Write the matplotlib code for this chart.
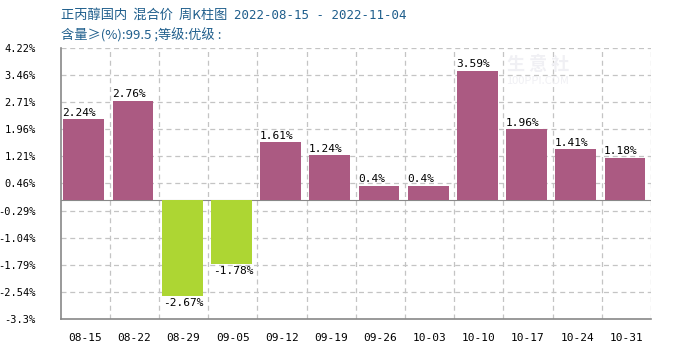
import matplotlib
matplotlib.use("Agg")
import matplotlib.pyplot as plt
import numpy as np

plt.rcParams['font.family'] = ['Noto Sans CJK SC', 'DejaVu Sans']

# weekly change data
weeks = ["08-15", "08-22", "08-29", "09-05", "09-12", "09-19",
         "09-26", "10-03", "10-10", "10-17", "10-24", "10-31"]
changes = [2.24, 2.76, -2.67, -1.78, 1.61, 1.24, 0.4, 0.4, 3.59, 1.96, 1.41, 1.18]
value_labels = ["2.24%", "2.76%", "-2.67%", "-1.78%", "1.61%", "1.24%",
                "0.4%", "0.4%", "3.59%", "1.96%", "1.41%", "1.18%"]
yticks = [4.22, 3.46, 2.71, 1.96, 1.21, 0.46, -0.29, -1.04, -1.79, -2.54, -3.3]
ytick_labels = ["4.22%", "3.46%", "2.71%", "1.96%", "1.21%", "0.46%",
                "-0.29%", "-1.04%", "-1.79%", "-2.54%", "-3.3%"]

up_color = "#AB5A82"
down_color = "#ADD633"
title_color = "#1F5E8C"
grid_color = "#C4C4C4"
mono = "DejaVu Sans Mono"

fig = plt.figure(figsize=(7, 3.5), dpi=100)
ax = fig.add_axes([0.0866, 0.0886, 0.8434, 0.7744])

x = np.arange(len(weeks))
colors = [up_color if v >= 0 else down_color for v in changes]
ax.bar(x - 0.03, changes, width=0.83, color=colors, zorder=3)

for xi, v, lab in zip(x, changes, value_labels):
    if v >= 0:
        ax.text(xi - 0.46, v + 0.04, lab, ha="left", va="bottom",
                fontsize=8, family=mono, zorder=4)
    else:
        ax.text(xi, v - 0.05, lab, ha="center", va="top",
                fontsize=8, family=mono, zorder=4)

ax.set_xlim(-0.5, len(weeks) - 0.5)
ax.set_ylim(yticks[-1], yticks[0])
ax.set_yticks(yticks)
ax.set_yticklabels(ytick_labels, family=mono, fontsize=7.5)
ax.set_xticks(x)
ax.set_xticklabels(weeks, family=mono, fontsize=8)
ax.tick_params(axis="x", length=0, pad=10)
ax.tick_params(axis="y", length=0, pad=18)

# grid: horizontal at ticks, vertical at week boundaries
dash = (0, (4, 3))
for yv in yticks[:-1]:
    ax.axhline(yv, color=grid_color, lw=0.9, ls=dash, zorder=1)
for b in np.arange(0.5, len(weeks), 1.0):
    ax.axvline(b, color=grid_color, lw=0.9, ls=dash, zorder=1)
ax.axhline(0, color="#888888", lw=0.8, zorder=2)

for side in ["top", "right"]:
    ax.spines[side].set_visible(False)
for side in ["left", "bottom"]:
    ax.spines[side].set_color("#888888")
    ax.spines[side].set_linewidth(1.2)

# watermark
ax.text(9.2, 3.75, "生 意 社", color="#F0F0F4", fontsize=13, fontweight="bold",
        ha="center", va="center", zorder=2)
ax.text(9.2, 3.3, "100PPI.COM", color="#F0F0F4", fontsize=8,
        ha="center", va="center", zorder=2)

fig.text(0.087, 0.955, "正丙醇国内  混合价  周K柱图", color=title_color,
         fontsize=9.5, va="center", ha="left")
fig.text(0.335, 0.955, "2022-08-15 - 2022-11-04", color=title_color,
         fontsize=9, family=mono, va="center", ha="left")
fig.text(0.087, 0.9, "含量≥(%):99.5 ;等级:优级 :", color=title_color,
         fontsize=9.5, va="center", ha="left",
         family=["Noto Sans CJK SC", "DejaVu Sans"])

fig.savefig("out.png", dpi=100)
